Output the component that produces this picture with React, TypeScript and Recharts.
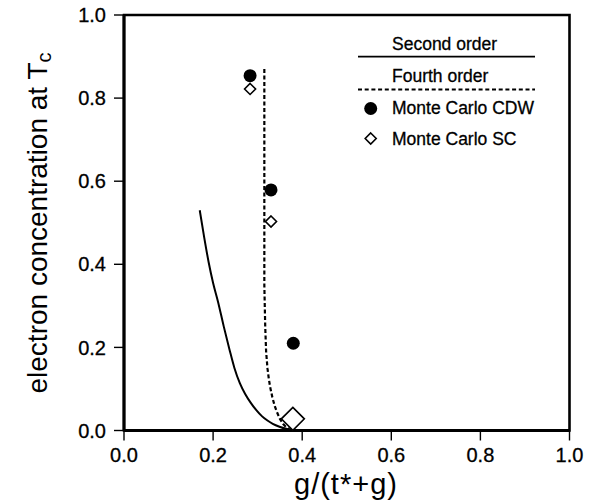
import {
  ComposedChart,
  Line,
  Scatter,
  XAxis,
  YAxis,
  ReferenceArea,
  Legend,
} from "recharts";

const xTicks = [0, 0.2, 0.4, 0.6, 0.8, 1.0];
const yTicks = [0, 0.2, 0.4, 0.6, 0.8, 1.0];

// second order (solid)
const secondOrderX = [0.17, 0.18, 0.19, 0.2, 0.211, 0.224, 0.237, 0.248, 0.26, 0.272, 0.285, 0.297, 0.31, 0.322, 0.334, 0.349, 0.364, 0.378, 0.386];
const secondOrderY = [0.53, 0.465, 0.405, 0.355, 0.31, 0.25, 0.194, 0.15, 0.114, 0.088, 0.066, 0.049, 0.034, 0.024, 0.016, 0.009, 0.004, 0.001, 0];

// fourth order (dashed)
const fourthOrderX = [0.315, 0.315, 0.315, 0.317, 0.319, 0.322, 0.325, 0.328, 0.333, 0.338, 0.343, 0.35, 0.357, 0.364, 0.371, 0.377];
const fourthOrderY = [0.87, 0.6, 0.35, 0.25, 0.19, 0.15, 0.125, 0.105, 0.08, 0.06, 0.045, 0.028, 0.016, 0.008, 0.003, 0];

// Monte Carlo results
const cdwX = [0.283, 0.33, 0.38];
const cdwY = [0.854, 0.579, 0.21];
const scX = [0.283, 0.33, 0.379];
const scY = [0.822, 0.503, 0.028];

const toPoints = (xs: number[], ys: number[]) => xs.map((x, i) => ({ x, y: ys[i] }));

const secondOrder = toPoints(secondOrderX, secondOrderY);
const fourthOrder = toPoints(fourthOrderX, fourthOrderY);
const cdw = toPoints(cdwX, cdwY);
const sc = toPoints(scX, scY);

const FONT = "'Liberation Sans', Arial, Helvetica, sans-serif";

const diamondPath = (cx: number, cy: number, h: number) =>
  `M${cx},${cy - h} L${cx + h},${cy} L${cx},${cy + h} L${cx - h},${cy} Z`;

const CircleShape = (props: any) => (
  <circle cx={props.cx} cy={props.cy} r={6.5} fill="#000" />
);

// last SC point is drawn larger in the original figure
const DiamondShape = (props: any) => {
  const h = props.index === sc.length - 1 ? 11.5 : 5.5;
  return (
    <path d={diamondPath(props.cx, props.cy, h)} fill="#fff" stroke="#000" strokeWidth={1.6} />
  );
};

const legendText = { fontSize: 17.5, fill: "#000", stroke: "#000", strokeWidth: 0.3 };

const renderLegend = () => (
  <svg width={220} height={130} style={{ fontFamily: FONT }}>
    <text x={42} y={20} {...legendText}>Second order</text>
    <line x1={8} x2={185} y1={26.7} y2={26.7} stroke="#000" strokeWidth={1.8} />
    <text x={42} y={52} {...legendText}>Fourth order</text>
    <line x1={8} x2={185} y1={59.5} y2={59.5} stroke="#000" strokeWidth={1.8} strokeDasharray="4 2.7" />
    <circle cx={20.7} cy={78.5} r={6.5} fill="#000" />
    <text x={42} y={84} {...legendText}>Monte Carlo CDW</text>
    <path d={diamondPath(20.7, 108.5, 5.5)} fill="#fff" stroke="#000" strokeWidth={1.6} />
    <text x={42} y={115} {...legendText}>Monte Carlo SC</text>
  </svg>
);

const renderYLabel = () => (
  <text
    x={47}
    y={223}
    transform="rotate(-90 47 223)"
    textAnchor="middle"
    fontSize={28}
    fontFamily={FONT}
    fill="#000"
  >
    electron concentration at T<tspan fontSize={20} dy={4}>c</tspan>
  </text>
);

const renderXLabel = () => (
  <text x={346} y={494} textAnchor="middle" fontSize={29} letterSpacing={1} fontFamily={FONT} fill="#000">
    g/(t*+g)
  </text>
);

const tickStyle = { fill: "#000", stroke: "#000", strokeWidth: 0.3, fontSize: 20, fontFamily: FONT };

export default function App() {
  return (
    <div style={{ position: "absolute", left: 0, top: 0, background: "#fff" }}>
      <ComposedChart
        width={597}
        height={504}
        margin={{ top: 15, right: 27.5, bottom: 0, left: 0 }}
      >
        <XAxis
          dataKey="x"
          type="number"
          domain={[0, 1]}
          ticks={xTicks}
          tickFormatter={(v: number) => v.toFixed(1)}
          height={73.5}
          tickSize={10}
          tickMargin={7}
          axisLine={{ stroke: "#000", strokeWidth: 3 }}
          tickLine={{ stroke: "#000", strokeWidth: 1.4 }}
          tick={tickStyle}
          label={{ content: renderXLabel }}
          allowDataOverflow
        />
        <YAxis
          dataKey="y"
          type="number"
          domain={[0, 1]}
          ticks={yTicks}
          tickFormatter={(v: number) => v.toFixed(1)}
          width={124}
          tickSize={10}
          tickMargin={8}
          axisLine={{ stroke: "#000", strokeWidth: 3 }}
          tickLine={{ stroke: "#000", strokeWidth: 1.4 }}
          tick={tickStyle}
          label={{ content: renderYLabel }}
          allowDataOverflow
        />
        <ReferenceArea x1={0} x2={1} y1={0} y2={1} fill="none" stroke="#000" strokeWidth={2.6} />
        <Line
          data={secondOrder}
          dataKey="y"
          type="monotone"
          stroke="#000"
          strokeWidth={2}
          dot={false}
          activeDot={false}
          isAnimationActive={false}
        />
        <Line
          data={fourthOrder}
          dataKey="y"
          type="linear"
          stroke="#000"
          strokeWidth={2.2}
          strokeDasharray="4 2.5"
          dot={false}
          activeDot={false}
          isAnimationActive={false}
        />
        <Scatter data={cdw} shape={CircleShape} isAnimationActive={false} />
        <Scatter data={sc} shape={DiamondShape} isAnimationActive={false} />
        <Legend
          layout="vertical"
          align="center"
          verticalAlign="middle"
          wrapperStyle={{ left: 350, top: 30, width: 220, height: 130 }}
          content={renderLegend}
        />
      </ComposedChart>
    </div>
  );
}
